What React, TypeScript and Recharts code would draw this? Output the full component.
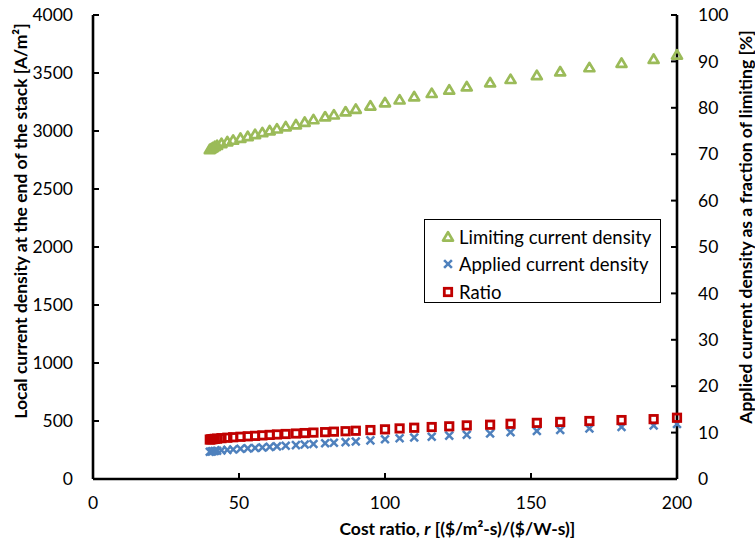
import React from "react";
import {
  ScatterChart,
  Scatter,
  XAxis,
  YAxis,
  Legend,
  Label,
} from "recharts";

/* ── Data ────────────────────────────────────────────────────── */

const costRatio = [
  40, 40.5, 41, 41.7, 42.5, 44, 46, 48, 50.5, 53, 55.5, 58, 60.5, 63, 66,
  69.5, 72.5, 75.5, 79.5, 82.5, 86.5, 90, 95, 100, 105, 110, 116, 122, 128,
  136, 143, 152, 160, 170, 181, 192, 200,
];

const limitingDensity = [
  2840, 2848, 2856, 2866, 2876, 2892, 2907, 2921, 2937, 2952, 2970, 2986,
  3002, 3018, 3036, 3054, 3075, 3098, 3122, 3139, 3165, 3188, 3216, 3244,
  3268, 3295, 3324, 3353, 3381, 3416, 3445, 3478, 3510, 3546, 3584, 3618,
  3655,
];

const appliedDensity = [
  235, 237, 239, 241, 243, 247, 251, 255, 260, 264, 268, 272, 277, 281, 286,
  292, 297, 302, 308, 312, 318, 323, 333, 343, 351, 358, 365, 374, 382, 392,
  403, 414, 423, 435, 448, 462, 474,
];

const ratioPct = [
  8.5, 8.55, 8.6, 8.65, 8.7, 8.8, 8.9, 9.0, 9.1, 9.2, 9.3, 9.4, 9.5, 9.6, 9.7,
  9.8, 9.9, 10.0, 10.1, 10.2, 10.3, 10.4, 10.55, 10.7, 10.9, 11.05, 11.2,
  11.35, 11.55, 11.7, 11.9, 12.1, 12.3, 12.5, 12.7, 12.9, 13.2,
];

const xTicks = [0, 50, 100, 150, 200];
const leftTicks = [0, 500, 1000, 1500, 2000, 2500, 3000, 3500, 4000];
const rightTicks = [0, 10, 20, 30, 40, 50, 60, 70, 80, 90, 100];

/* ── Constants ───────────────────────────────────────────────── */

const GREEN = "#9BBB59";
const BLUE = "#4F81BD";
const RED = "#C00000";
const FONT = "Lato, 'Open Sans', sans-serif";

const limitingData = costRatio.map((x, i) => ({ x, y: limitingDensity[i] }));
const appliedData = costRatio.map((x, i) => ({ x, y: appliedDensity[i] }));
const ratioData = costRatio.map((x, i) => ({ x, y: ratioPct[i] }));

/* ── Marker shapes ───────────────────────────────────────────── */

const Triangle = ({ cx, cy }: any) => (
  <polygon
    points={`${cx},${cy - 4.8} ${cx + 5},${cy + 3.6} ${cx - 5},${cy + 3.6}`}
    fill="none"
    stroke={GREEN}
    strokeWidth={2.7}
    strokeLinejoin="round"
  />
);

const Cross = ({ cx, cy }: any) => (
  <g stroke={BLUE} strokeWidth={2.5}>
    <line x1={cx - 3.9} y1={cy - 3.9} x2={cx + 3.9} y2={cy + 3.9} />
    <line x1={cx - 3.9} y1={cy + 3.9} x2={cx + 3.9} y2={cy - 3.9} />
  </g>
);

const Square = ({ cx, cy }: any) => (
  <rect
    x={cx - 3.7}
    y={cy - 3.7}
    width={7.4}
    height={7.4}
    fill="none"
    stroke={RED}
    strokeWidth={2.8}
  />
);

const legendItems = [
  { label: "Limiting current density", Shape: Triangle },
  { label: "Applied current density", Shape: Cross },
  { label: "Ratio", Shape: Square },
];

const renderLegend = () => (
  <div
    style={{
      border: "1.5px solid #000",
      background: "#fff",
      width: 237,
      height: 84,
      boxSizing: "border-box",
      padding: "3px 0 0 16px",
      fontFamily: FONT,
      fontSize: 18.5,
      color: "#000",
    }}
  >
    {legendItems.map(({ label, Shape }) => (
      <div
        key={label}
        style={{ display: "flex", alignItems: "center", height: 27.5 }}
      >
        <svg width={14} height={14} style={{ marginRight: 4 }}>
          <Shape cx={7} cy={7} />
        </svg>
        <span>{label}</span>
      </div>
    ))}
  </div>
);

/* ── Axis titles ─────────────────────────────────────────────── */

const titleStyle = {
  fontFamily: FONT,
  fontWeight: 700,
  fontSize: 17.5,
  fill: "#000",
};

const LeftTitle = ({ viewBox }: any) => {
  const x = viewBox.x + 20;
  const y = viewBox.y + viewBox.height / 2 - 26;
  return (
    <text
      x={x}
      y={y}
      transform={`rotate(-90 ${x} ${y})`}
      textAnchor="middle"
      dominantBaseline="central"
      style={titleStyle}
    >
      Local current density at the end of the stack [A/m²]
    </text>
  );
};

const RightTitle = ({ viewBox }: any) => {
  const x = viewBox.x + 68;
  const y = viewBox.y + viewBox.height / 2 - 20;
  return (
    <text
      x={x}
      y={y}
      transform={`rotate(-90 ${x} ${y})`}
      textAnchor="middle"
      dominantBaseline="central"
      style={titleStyle}
    >
      Applied current density as a fraction of limiting [%]
    </text>
  );
};

const BottomTitle = ({ viewBox }: any) => (
  <text
    x={viewBox.x + viewBox.width * 0.624}
    y={viewBox.y + 49}
    textAnchor="middle"
    dominantBaseline="central"
    style={titleStyle}
  >
    Cost ratio, <tspan fontStyle="italic">r</tspan> [($/m²-s)/($/W-s)]
  </text>
);

/* ── Component ───────────────────────────────────────────────── */

const tickStyle = { fontFamily: FONT, fontSize: 17.5, fill: "#000" };
const axisLine = { stroke: "#000", strokeWidth: 2.6 };
const tickLine = { stroke: "#000", strokeWidth: 2 };

export default function App() {
  return (
    <div style={{ position: "absolute", left: 0, top: 0 }}>
      <ScatterChart
        width={755}
        height={548}
        margin={{ top: 15, right: 0, bottom: 0, left: 0 }}
      >
        <XAxis
          type="number"
          dataKey="x"
          domain={[0, 200]}
          ticks={xTicks}
          height={69}
          axisLine={axisLine}
          tickLine={tickLine}
          tickSize={-6}
          tickMargin={24}
          tick={tickStyle}
          interval={0}
        >
          <Label content={BottomTitle} />
        </XAxis>
        <YAxis
          yAxisId="left"
          type="number"
          dataKey="y"
          domain={[0, 4000]}
          ticks={leftTicks}
          width={93}
          axisLine={axisLine}
          tickLine={tickLine}
          tickSize={-6}
          tickMargin={26}
          tick={tickStyle}
          interval={0}
        >
          <Label content={LeftTitle} />
        </YAxis>
        <YAxis
          yAxisId="right"
          orientation="right"
          type="number"
          dataKey="y"
          domain={[0, 100]}
          ticks={rightTicks}
          width={78}
          axisLine={axisLine}
          tickLine={tickLine}
          tickSize={-6}
          tickMargin={27}
          tick={tickStyle}
          interval={0}
        >
          <Label content={RightTitle} />
        </YAxis>
        <Legend
          layout="horizontal"
          verticalAlign="middle"
          align="center"
          wrapperStyle={{ left: 424, top: 219, width: 237 }}
          content={renderLegend}
        />
        <Scatter
          name="Limiting current density"
          yAxisId="left"
          data={limitingData}
          shape={Triangle}
          isAnimationActive={false}
        />
        <Scatter
          name="Applied current density"
          yAxisId="left"
          data={appliedData}
          shape={Cross}
          isAnimationActive={false}
        />
        <Scatter
          name="Ratio"
          yAxisId="right"
          data={ratioData}
          shape={Square}
          isAnimationActive={false}
        />
      </ScatterChart>
    </div>
  );
}
